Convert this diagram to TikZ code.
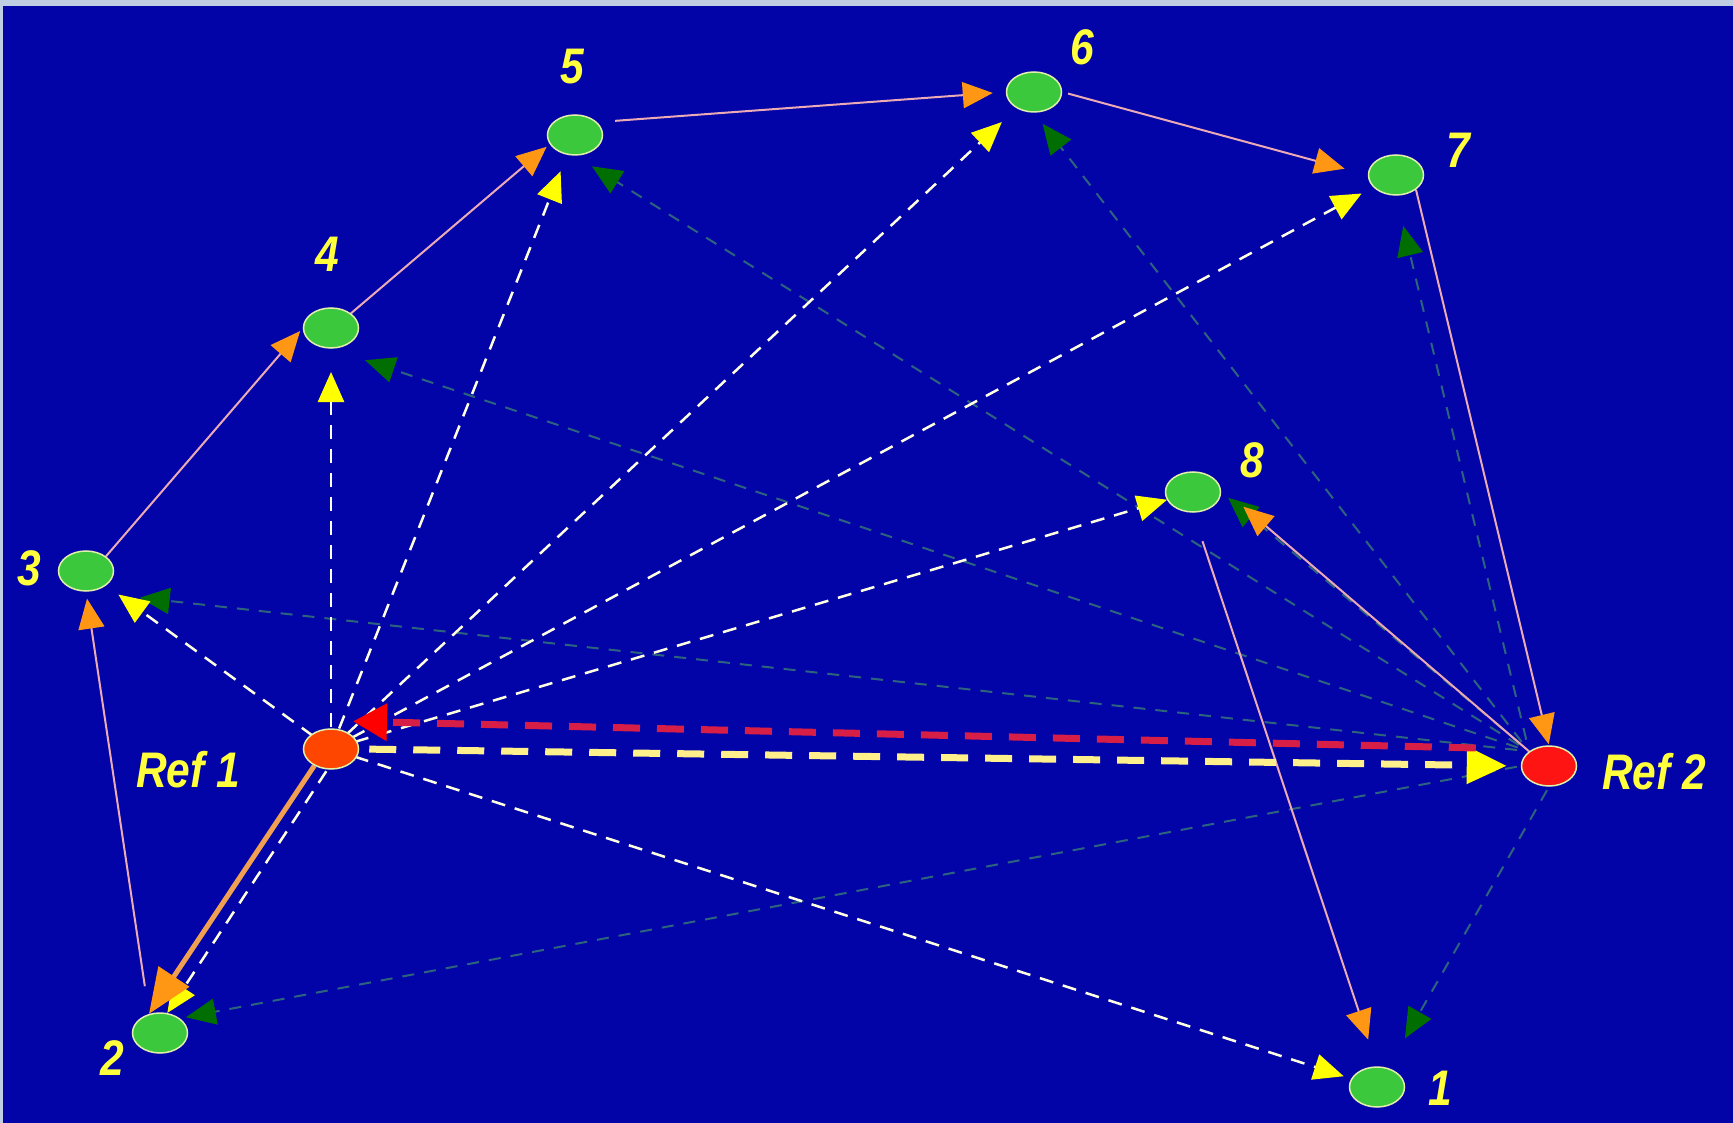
\documentclass[tikz,border=0pt]{standalone}
\usepackage{fontspec}
\setmainfont{Liberation Sans}
\usetikzlibrary{arrows.meta,shapes.geometric,calc}
\pgfdeclarelayer{bglayer}
\pgfdeclarelayer{edgelayer}
\pgfsetlayers{bglayer,edgelayer,main}

\definecolor{bgblue}{RGB}{2,4,168}
\definecolor{topgray}{RGB}{190,205,225}
\definecolor{gfill}{RGB}{60,200,60}
\definecolor{gborder}{RGB}{225,240,170}
\definecolor{rAfill}{RGB}{255,70,0}
\definecolor{rBfill}{RGB}{255,20,20}
\definecolor{lblyellow}{RGB}{255,255,60}
\definecolor{ylinecol}{RGB}{255,255,225}
\definecolor{yellowtip}{RGB}{255,255,0}
\definecolor{glinecol}{RGB}{45,100,125}
\definecolor{greentip}{RGB}{0,110,0}
\definecolor{olinecol}{RGB}{235,170,180}
\definecolor{orangetip}{RGB}{255,150,20}
\definecolor{othickcol}{RGB}{240,160,80}
\definecolor{ythickcol}{RGB}{255,240,140}
\definecolor{rthickcol}{RGB}{215,30,70}

\tikzset{
  gnode/.style={ellipse, fill=gfill, draw=gborder, line width=1.5pt, minimum width=55pt, minimum height=40pt, inner sep=0pt},
  refA/.style={gnode, fill=rAfill},
  refB/.style={gnode, fill=rBfill},
  lbl/.style={text=lblyellow, inner sep=0pt, font=\fontsize{50}{50}\selectfont\bfseries\itshape},
  ydash/.style={draw=ylinecol, line width=2.5pt, dash pattern=on 14pt off 10pt, -{Triangle[length=30pt,width=26pt,color=yellowtip]}},
  gdash/.style={draw=glinecol, line width=2pt, dash pattern=on 12pt off 10pt, -{Triangle[length=30pt,width=26pt,color=greentip]}},
  oline/.style={draw=olinecol, line width=2pt, -{Triangle[length=30pt,width=26pt,color=orangetip]}},
  othick/.style={draw=othickcol, line width=5pt, -{Triangle[length=45pt,width=36pt,color=orangetip]}},
  ythick/.style={draw=ythickcol, line width=7pt, dash pattern=on 27pt off 17pt, -{Triangle[length=40pt,width=36pt,color=yellowtip]}},
  rthick/.style={draw=rthickcol, line width=7pt, dash pattern=on 27pt off 17pt, -{Triangle[length=34pt,width=36pt,color=red]}}
}

\begin{document}
\begin{tikzpicture}[x=1pt,y=-1pt]
\begin{pgfonlayer}{bglayer}
\fill[bgblue] (0,0) rectangle (1733,1123);
\fill[topgray] (0,0) rectangle (1733,6);
\fill[topgray] (0,0) rectangle (3,1123);
\end{pgfonlayer}
\useasboundingbox (0,0) rectangle (1733,1123);

% nodes
\node[gnode] (n1) at (1377,1087) {};
\node[gnode] (n2) at (160,1033) {};
\node[gnode] (n3) at (86,571) {};
\node[gnode] (n4) at (331,328) {};
\node[gnode] (n5) at (575,135) {};
\node[gnode] (n6) at (1034,92) {};
\node[gnode] (n7) at (1396,175) {};
\node[gnode] (n8) at (1193,492) {};
\node[refA] (r1) at (331,749) {};
\node[refB] (r2) at (1549,766) {};

% labels
\node[lbl] (l1) at (1440,1088) {\scalebox{0.85}[1]{1}};
\node[lbl] (l2) at (112,1058) {\scalebox{0.85}[1]{2}};
\node[lbl] (l3) at (29,568) {\scalebox{0.85}[1]{3}};
\node[lbl] (l4) at (327,254) {\scalebox{0.85}[1]{4}};
\node[lbl] (l5) at (572,67) {\scalebox{0.85}[1]{5}};
\node[lbl] (l6) at (1082,47) {\scalebox{0.85}[1]{6}};
\node[lbl] (l7) at (1458,150) {\scalebox{0.85}[1]{7}};
\node[lbl] (l8) at (1252,460) {\scalebox{0.85}[1]{8}};
\node[lbl] (lr1) at (188,770) {\scalebox{0.85}[1]{Ref 1}};
\node[lbl] (lr2) at (1654,772) {\scalebox{0.85}[1]{Ref 2}};

\begin{pgfonlayer}{edgelayer}
% green dashed from Ref 2
\draw[gdash, shorten <=12pt, shorten >=54pt] (r2.north west) -- (n3.south);
\draw[gdash, shorten <=12pt, shorten >=36pt] (r2.north west) -- (n4.south);
\draw[gdash, shorten <=12pt, shorten >=20pt] (r2.north west) -- (n5.south);
\draw[gdash, shorten <=12pt, shorten >=14pt] (r2.north west) -- (n6.south);
\draw[gdash, shorten <=12pt, shorten >=31pt] (r2.north west) -- (n7.south);
\draw[gdash, shorten <=12pt, shorten >=9pt] (r2.north west) -- (n8.east);
\draw[gdash, shorten <=4pt, shorten >=34pt] (r2.south) -- (n1.60);
\draw[gdash, shorten <=4pt, shorten >=6pt] (r2.west) -- (n2.north east);

% yellow dashed from Ref 1
\draw[ydash, shorten <=22pt, shorten >=40pt] (r1.center) -- (n3.center);
\draw[ydash, shorten <=22pt, shorten >=44pt] (r1.center) -- (n4.center);
\draw[ydash, shorten <=22pt, shorten >=39pt] (r1.center) -- (n5.center);
\draw[ydash, shorten <=22pt, shorten >=44pt] (r1.center) -- (n6.center);
\draw[ydash, shorten <=24pt, shorten >=39pt] (r1.center) -- (n7.center);
\draw[ydash, shorten <=25pt, shorten >=27pt] (r1.center) -- (n8.center);
\draw[ydash, shorten <=25pt, shorten >=35pt] (r1.center) -- (n1.center);
\draw[ydash, shorten <=2pt] (r1.260) -- (n2.70);

% orange solid
\draw[oline, shorten >=4pt] (n3.north east) -- (n4.west);
\draw[oline, shorten >=4pt] (n4.north east) -- (n5.200);
\draw[oline, shorten <=18pt, shorten >=13pt] (n5.30) -- (n6.west);
\draw[oline, shorten <=6pt, shorten >=24pt] (n6.east) -- (n7.west);
\draw[oline, shorten >=1pt] (n7.south east) -- (r2.north);
\draw[oline, shorten >=30pt] (r2.north west) -- (n8.10);
\draw[oline, shorten <=30pt, shorten >=28pt] (n8.south) -- (n1.north);
\draw[oline, shorten <=28pt, shorten >=7pt] (n2.120) -- (n3.south);
\draw[othick] (r1.225) -- (n2.120);

% thick reference links
\draw[ythick, shorten <=10pt, shorten >=14pt] (r1.east) -- (r2.west);
\draw[rthick] ($(r2.west)+(-45,-18)$) -- ($(r1.north east)+(2,-13)$);
\end{pgfonlayer}
\end{tikzpicture}
\end{document}
